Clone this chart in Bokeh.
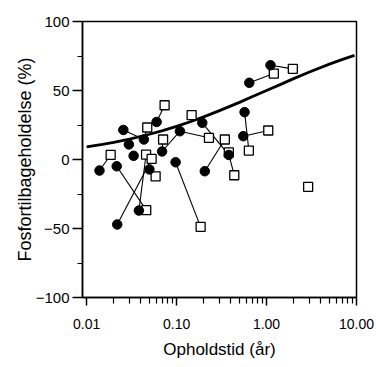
from bokeh.plotting import figure
from bokeh.models import FixedTicker, Range1d
from bokeh.embed import file_html
from bokeh.resources import INLINE

# ---- data ----
x_ticks = [0.01, 0.1, 1, 10]
x_tick_labels = ["0.01", "0.10", "1.00", "10.00"]
x_minor = [0.02, 0.03, 0.04, 0.05, 0.06, 0.07, 0.08, 0.09,
           0.2, 0.3, 0.4, 0.5, 0.6, 0.7, 0.8, 0.9,
           2, 3, 4, 5, 6, 7, 8, 9]
y_ticks = [-100, -50, 0, 50, 100]
y_tick_labels = ["\u2212100", "\u221250", "0", "50", "100"]
y_minor = [-75, -25, 25, 75]

# model curve (retention vs residence time)
curve_x = [0.01, 0.015, 0.02, 0.03, 0.05, 0.07, 0.1, 0.15, 0.2, 0.3, 0.5, 0.7,
           1.0, 1.5, 2.0, 3.0, 5.0, 7.0, 9.5]
curve_y = [9.1, 10.9, 12.4, 14.8, 18.3, 20.9, 24.0, 27.9, 30.9, 35.4, 41.4, 45.6,
           50.0, 55.0, 58.6, 63.4, 69.1, 72.6, 75.5]

# filled circles
circ_x = [0.0256, 0.060, 0.0433, 0.0295, 0.069, 0.0333, 0.0139, 0.0216, 0.0499, 0.0381,
          0.0219, 0.0975, 0.109, 0.193, 0.206, 0.381, 0.57, 0.551, 0.643, 1.107]
circ_y = [21.4, 27.2, 14.5, 10.9, 5.8, 2.7, -8.0, -4.9, -7.2, -37.0,
          -47.1, -2.0, 20.5, 26.6, -8.5, 3.3, 34.3, 16.9, 55.6, 68.3]

# open squares
sq_x = [0.0736, 0.0472, 0.0708, 0.0185, 0.0458, 0.0528, 0.0585, 0.046, 0.185, 0.147,
        0.229, 0.344, 0.381, 0.438, 0.636, 1.045, 1.205, 1.96, 2.9]
sq_y = [39.3, 23.2, 14.5, 3.3, 3.6, 0.4, -12.3, -36.7, -48.8, 32.1,
        15.7, 14.5, 5.1, -11.4, 6.5, 21.0, 62.3, 65.7, -19.8]

# connections between markers: (kind, index, kind, index)
links = [("c", 1, "s", 0), ("c", 0, "c", 2), ("c", 2, "s", 1), ("s", 2, "c", 4),
         ("s", 3, "c", 6), ("c", 7, "s", 7), ("c", 10, "s", 5), ("c", 9, "s", 4),
         ("c", 8, "s", 6), ("c", 11, "s", 8), ("c", 4, "c", 12), ("c", 12, "s", 10),
         ("c", 13, "c", 15), ("c", 15, "s", 13), ("s", 11, "c", 14), ("c", 16, "s", 14),
         ("c", 17, "s", 15), ("c", 18, "s", 16), ("c", 19, "s", 17), ("c", 15, "s", 12)]


def pt(kind, i):
    if kind == "c":
        return circ_x[i], circ_y[i]
    return sq_x[i], sq_y[i]


xs, ys = [], []
for ka, ia, kb, ib in links:
    xa_, ya_ = pt(ka, ia)
    xb_, yb_ = pt(kb, ib)
    xs.append([xa_, xb_])
    ys.append([ya_, yb_])

FONT = "Liberation Sans"

p = figure(width=376, height=367, x_axis_type="log",
           x_range=Range1d(0.009, 10), y_range=Range1d(-100, 100),
           output_backend="svg", toolbar_location=None,
           min_border_left=82, min_border_right=20,
           min_border_top=21, min_border_bottom=70)

p.grid.visible = False
p.outline_line_color = "black"
p.outline_line_width = 1.5
p.background_fill_color = "white"
p.border_fill_color = "white"

p.multi_line(xs=xs, ys=ys, line_color="black", line_width=1.1)
p.line(curve_x, curve_y, line_color="black", line_width=2.8)
p.scatter(sq_x, sq_y, marker="square", size=9, fill_color="white",
          line_color="black", line_width=1.3)
p.scatter(circ_x, circ_y, marker="circle", size=9.5, fill_color="black",
          line_color="black")

xa = p.xaxis[0]
xa.ticker = FixedTicker(ticks=x_ticks, minor_ticks=x_minor)
xa.major_label_overrides = {t: l for t, l in zip(x_ticks, x_tick_labels)}
xa.axis_label = "Opholdstid (år)"

ya = p.yaxis[0]
ya.ticker = FixedTicker(ticks=y_ticks, minor_ticks=y_minor)
ya.major_label_overrides = {t: l for t, l in zip(y_ticks, y_tick_labels)}
ya.axis_label = "Fosfortilbageholdelse (%)"

for ax in (xa, ya):
    ax.axis_line_color = "black"
    ax.axis_line_width = 1.5
    ax.major_tick_line_color = "black"
    ax.minor_tick_line_color = "black"
    ax.major_tick_line_width = 1.5
    ax.minor_tick_line_width = 1.2
    ax.major_tick_in = 0
    ax.minor_tick_in = 0
    ax.major_label_text_font = FONT
    ax.major_label_text_color = "black"
    ax.axis_label_text_font = FONT
    ax.axis_label_text_font_style = "normal"
    ax.axis_label_text_color = "black"

xa.major_tick_out = 8
xa.minor_tick_out = 6
xa.major_label_text_font_size = "14px"
xa.major_label_standoff = 13
xa.axis_label_text_font_size = "17px"
xa.axis_label_standoff = 8

ya.major_tick_out = 10
ya.minor_tick_out = 5
ya.major_label_text_font_size = "15px"
ya.major_label_standoff = 3
ya.axis_label_text_font_size = "18px"
ya.axis_label_standoff = -2

open("out.html", "w").write(file_html(p, INLINE))
